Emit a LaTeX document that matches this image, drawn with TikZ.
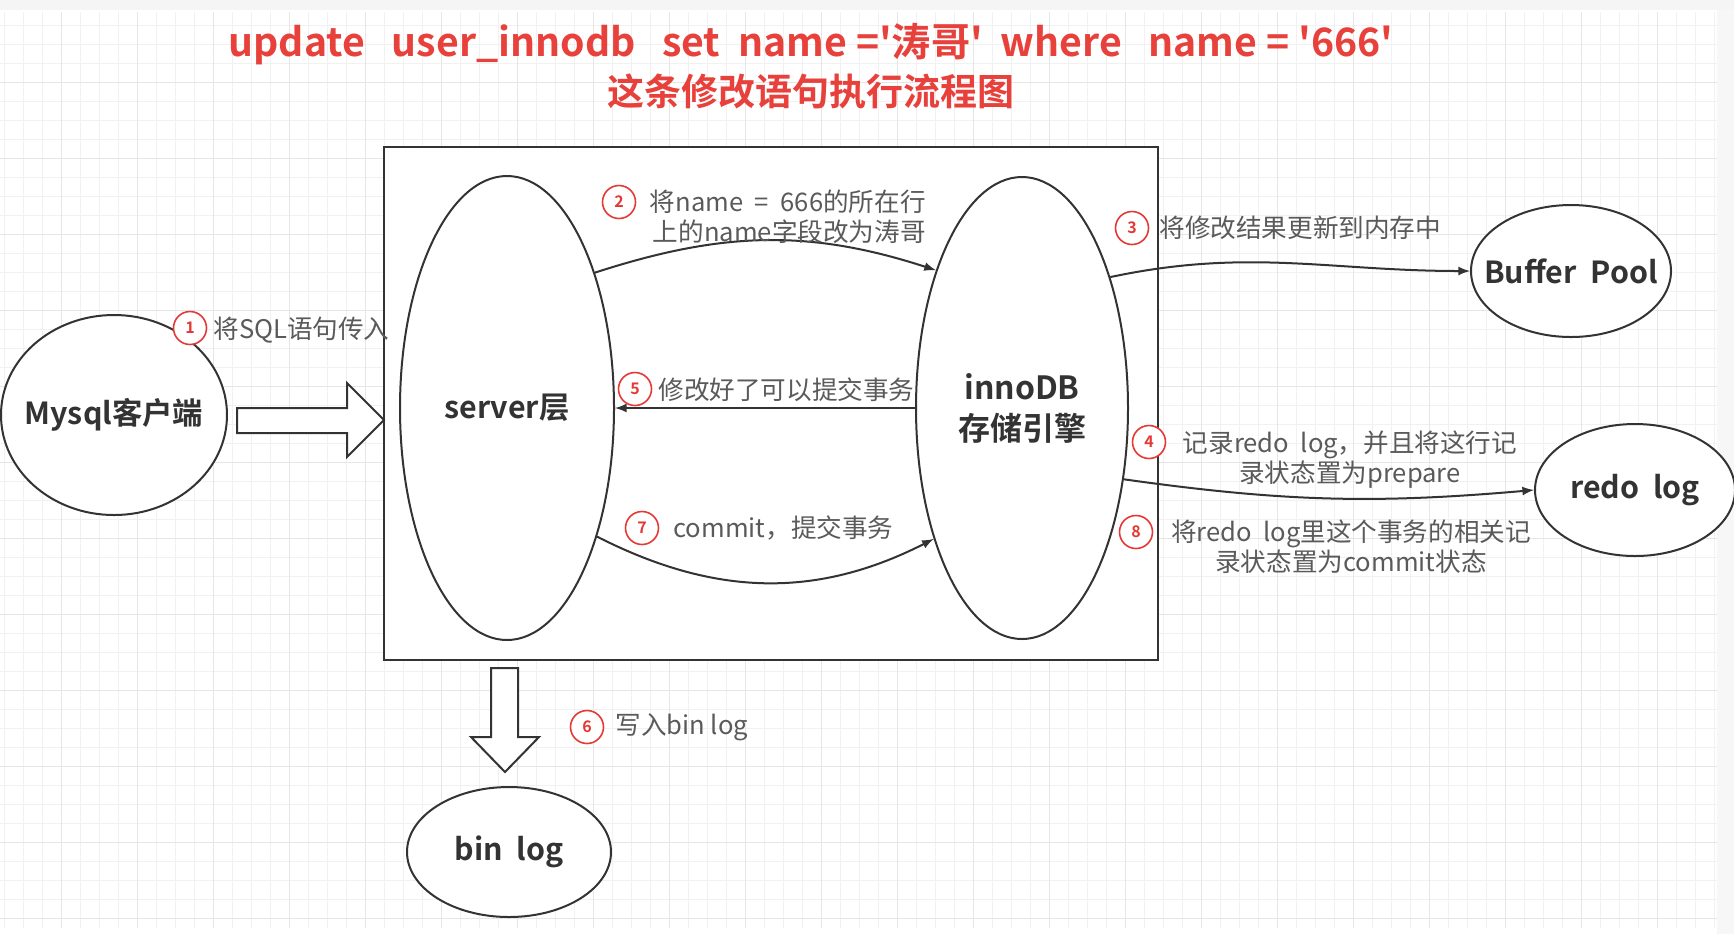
\documentclass[tikz,border=0pt]{standalone}
\usepackage{fontspec}
\setmainfont{Noto Sans CJK SC}[BoldFont={Noto Sans CJK SC Bold},Ligatures=TeXOff]
\usetikzlibrary{shapes.geometric}
\definecolor{ink}{HTML}{333333}
\definecolor{note}{HTML}{5A5A5A}
\definecolor{mark}{HTML}{E53935}
\definecolor{headred}{HTML}{E8413C}
\definecolor{gridminor}{HTML}{F1F1F1}
\definecolor{gridmajor}{HTML}{E6E6E6}
\tikzset{
  blob/.style={ellipse,draw=ink,line width=1pt,fill=white,inner sep=0pt},
  blobtext/.style={text=ink,align=center,inner sep=0pt,
    font=\fontsize{15.2}{20.5}\selectfont\bfseries},
  num/.style={circle,draw=mark,line width=0.8pt,fill=white,minimum size=16.5pt,
    inner sep=0pt,text=mark,font=\fontsize{8}{8}\selectfont\bfseries},
  lbl/.style={text=note,inner sep=0pt,font=\fontsize{12.8}{15}\selectfont},
  conn/.style={->,draw=ink,line width=1pt},
  hollow/.style={draw=ink,line width=1pt,fill=white,line join=miter},
  headline/.style={text=headred,inner sep=0pt,font=\fontsize{18.5}{22}\selectfont\bfseries},
}
\begin{document}
\begin{tikzpicture}[x=0.5pt,y=-0.5pt,>=latex]
\useasboundingbox (0,0) rectangle (1734,934);
\fill[white] (0,0) rectangle (1734,934);
\fill[gray!8] (0,0) rectangle (1734,10);
\fill[gray!6] (1717,10) rectangle (1734,934);

% grid
\foreach \k in {0,...,90}
  \draw[gridminor,line width=0.5pt] (4+19*\k,12) -- (4+19*\k,928);
\foreach \k in {1,...,48}
  \draw[gridminor,line width=0.5pt] (0,6+19*\k) -- (1717,6+19*\k);
\foreach \k in {3,7,...,87}
  \draw[gridmajor,line width=0.5pt] (4+19*\k,12) -- (4+19*\k,928);
\foreach \k in {4,8,...,48}
  \draw[gridmajor,line width=0.5pt] (0,6+19*\k) -- (1717,6+19*\k);

\node[headline,font=\fontsize{19.6}{22}\selectfont\bfseries] (head) at (811,44) {update\ \ \ user\_innodb\ \ \ set\ \ name\ ='涛哥'\ \ where\ \ \ name\ =\ '666'};
\node[headline] (subhead) at (811,91) {这条修改语句执行流程图};

\node[draw=ink,line width=1pt,fill=white,minimum width=387pt,minimum height=256.5pt] (frame) at (771,403.5) {};

\node[blob,minimum width=113pt,minimum height=100pt,label={[blobtext]center:Mysql客户端}] (client) at (114,415) {};
\node[blob,minimum width=107pt,minimum height=232pt,label={[blobtext]center:server层}] (server) at (507,408) {};
\node[blob,minimum width=106pt,minimum height=231pt,label={[blobtext,font=\fontsize{16}{20.5}\selectfont\bfseries]center:{innoDB\\存储引擎}}] (inno) at (1022,408) {};
\node[blob,minimum width=100pt,minimum height=66pt,label={[blobtext]center:Buffer\ \ Pool}] (buffer) at (1571,271) {};
\node[blob,minimum width=100pt,minimum height=66pt,label={[blobtext]center:redo\ \ log}] (redo) at (1635,490) {};
\node[blob,minimum width=102pt,minimum height=65pt,label={[blobtext]center:bin\ \ log}] (bin) at (509,852) {};

% hollow arrows
\draw[hollow] (237,408) -- (347,408) -- (347,383) -- (384,420) -- (347,457) -- (347,433) -- (237,433) -- cycle;
\draw[hollow] (491,668) -- (518,668) -- (518,737) -- (539,737) -- (505,772) -- (471,737) -- (491,737) -- cycle;

\draw[conn] (server.57) to[out=18,in=162] (inno.122);
\draw[conn] (inno.west) -- (server.east);
\draw[conn] (server.-55) to[out=-27,in=-153] (inno.-124);
\draw[conn] (inno.56) to[out=12,in=180] (buffer.west);
\draw[conn] (inno.-35) to[out=-8,in=-175] (redo.west);

\node[num] (n1) at (190,328) {1};
\node[lbl,anchor=west] (t1) at (213,330) {将SQL语句传入};
\node[num] (n2) at (619,202) {2};
\node[lbl,anchor=east,align=right] (t2) at (926,217) {将name\ \ =\ \ 666的所在行\\上的name字段改为涛哥};
\node[num] (n3) at (1132,228) {3};
\node[lbl,anchor=west] (t3) at (1159,228) {将修改结果更新到内存中};
\node[num] (n4) at (1149,442) {4};
\node[lbl,align=center] (t4) at (1350,460) {记录redo\ \ log，并且将这行记\\录状态置为prepare};
\node[num] (n5) at (635,389) {5};
\node[lbl,anchor=west] (t5) at (658,390) {修改好了可以提交事务};
\node[num] (n6) at (587,727) {6};
\node[lbl,anchor=west] (t6) at (615,727) {写入bin log};
\node[num] (n7) at (642,528) {7};
\node[lbl,anchor=west] (t7) at (673,528) {commit，提交事务};
\node[num] (n8) at (1136,532) {8};
\node[lbl,align=center] (t8) at (1351,547) {将redo\ \ log里这个事务的相关记\\录状态置为commit状态};
\end{tikzpicture}
\end{document}
